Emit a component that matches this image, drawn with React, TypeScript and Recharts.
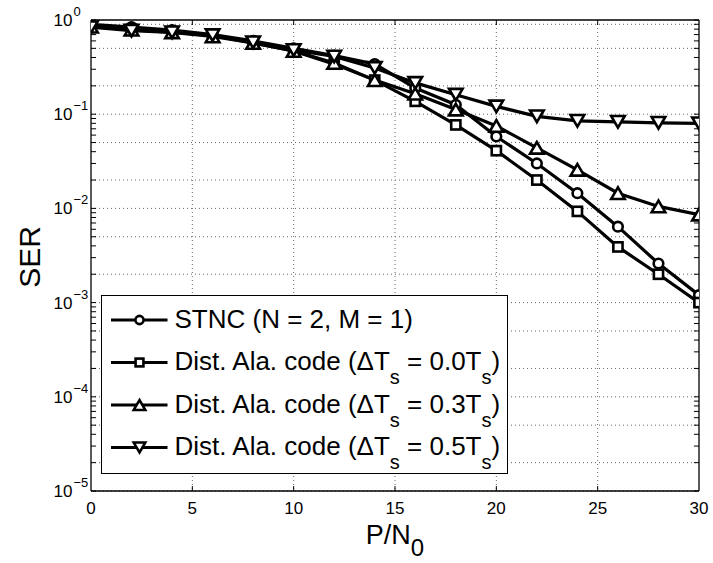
import React from 'react';
import { LineChart, Line, XAxis, YAxis, CartesianGrid, ReferenceLine, Legend } from 'recharts';

// ---- data ----
const snr = [0, 2, 4, 6, 8, 10, 12, 14, 16, 18, 20, 22, 24, 26, 28, 30];
const serStnc = [0.9, 0.84, 0.78, 0.7, 0.6, 0.5, 0.42, 0.34, 0.19, 0.126, 0.058, 0.03, 0.0145, 0.0064, 0.0026, 0.0012];
const serDist00 = [0.86, 0.8, 0.75, 0.68, 0.57, 0.47, 0.34, 0.23, 0.137, 0.077, 0.041, 0.02, 0.0093, 0.0039, 0.002, 0.001];
const serDist03 = [0.85, 0.79, 0.74, 0.67, 0.57, 0.47, 0.35, 0.23, 0.165, 0.112, 0.075, 0.044, 0.0257, 0.0145, 0.0105, 0.0086];
const serDist05 = [0.84, 0.77, 0.74, 0.69, 0.58, 0.48, 0.41, 0.31, 0.215, 0.161, 0.121, 0.095, 0.085, 0.083, 0.081, 0.08];
const seriesNames = [
  'STNC (N = 2, M = 1)',
  'Dist. Ala. code (ΔT_s = 0.0T_s)',
  'Dist. Ala. code (ΔT_s = 0.3T_s)',
  'Dist. Ala. code (ΔT_s = 0.5T_s)',
];
const seriesKeys = ['stnc', 'd00', 'd03', 'd05'];
const seriesMarkers = ['circle', 'square', 'up', 'down'];
const xTicks = [0, 5, 10, 15, 20, 25, 30];
const xGrid = [5, 10, 15, 20, 25];
const yTicks = [1e-5, 1e-4, 1e-3, 1e-2, 1e-1, 1];
const yTickExponents = ['−5', '−4', '−3', '−2', '−1', '0'];
const yDecades = [-5, -4, -3, -2, -1];
const yMantissas = [1, 2, 3, 4, 5, 6, 7, 8, 9];

const data = snr.map((x, i) => ({ x, stnc: serStnc[i], d00: serDist00[i], d03: serDist03[i], d05: serDist05[i] }));
const yGridValues: number[] = [];
yDecades.forEach((e) => yMantissas.forEach((m) => yGridValues.push(m * Math.pow(10, e))));

const FONT = '"Liberation Sans", Arial, Helvetica, sans-serif';
const W = 713;
const H = 563;
const TICK_X = 0.25; // inward tick length in x units
const TICK_YF = Math.pow(10, 5 / 94); // inward tick length as log factor

function Marker({ type, cx, cy, s = 1 }: { type: string; cx: number; cy: number; s?: number }) {
  const sw = 2.6;
  if (type === 'circle') return <circle cx={cx} cy={cy} r={4.8 * s} fill="#fff" stroke="#000" strokeWidth={sw} />;
  if (type === 'square') {
    const h = 4.6 * s;
    return <rect x={cx - h} y={cy - h} width={2 * h} height={2 * h} fill="#fff" stroke="#000" strokeWidth={sw} />;
  }
  const hw = 6.8 * s;
  const hh = 5.8 * s;
  if (type === 'up')
    return <polygon points={`${cx},${cy - hh} ${cx - hw},${cy + hh} ${cx + hw},${cy + hh}`} fill="#fff" stroke="#000" strokeWidth={sw} strokeLinejoin="miter" />;
  return <polygon points={`${cx},${cy + hh} ${cx - hw},${cy - hh} ${cx + hw},${cy - hh}`} fill="#fff" stroke="#000" strokeWidth={sw} strokeLinejoin="miter" />;
}

const makeDot = (type: string) => (props: any) => {
  const { cx, cy, index } = props;
  if (cx == null || cy == null) return <g key={`${type}-${index}`} />;
  return (
    <g key={`${type}-${index}`}>
      <Marker type={type} cx={cx} cy={cy} />
    </g>
  );
};

const XTick = (props: any) => {
  const { x, y, payload } = props;
  return (
    <text x={x} y={y + 23} textAnchor="middle" fontSize={17} fontFamily={FONT} fill="#000">
      {payload.value}
    </text>
  );
};

const YTick = (props: any) => {
  const { x, y, payload } = props;
  const i = yTicks.findIndex((t) => Math.abs(Math.log10(t) - Math.log10(payload.value)) < 1e-6);
  return (
    <g>
      <text x={x - 18.5} y={y + 6} textAnchor="end" fontSize={17} fontFamily={FONT} fill="#000">
        10
      </text>
      <text x={x - 17.5} y={y - 4} textAnchor="start" fontSize={13} fontFamily={FONT} fill="#000">
        {yTickExponents[i]}
      </text>
    </g>
  );
};

function renderTeX(label: string, subDy: number, subSize: number) {
  const parts = label.split(/_(.)/);
  const out: any[] = [];
  parts.forEach((p, i) => {
    if (p === '') return;
    const isSub = i % 2 === 1;
    const prevSub = i > 0 && (i - 1) % 2 === 1;
    let dy = 0;
    if (isSub) dy = subDy;
    else if (prevSub) dy = -subDy;
    out.push(
      <tspan key={i} dy={dy} fontSize={isSub ? subSize : undefined} style={{ whiteSpace: 'pre' }}>
        {p}
      </tspan>
    );
  });
  return out;
}

const rowCenters = [25, 67.5, 110, 152.5];

const LegendBox = () => (
  <div
    style={{
      width: 407,
      height: 179,
      boxSizing: 'border-box',
      border: '1px solid #000',
      background: '#fff',
    }}
  >
    <svg width={405} height={177} style={{ display: 'block' }}>
      {seriesNames.map((name, i) => {
        const c = rowCenters[i] - 1;
        return (
          <g key={name}>
            <line x1={9} x2={65.5} y1={c} y2={c} stroke="#000" strokeWidth={3.2} />
            <Marker type={seriesMarkers[i]} cx={37.5} cy={c} s={0.85} />
            <text x={72.5} y={c + 7.5} fontSize={26} fontFamily={FONT} fill="#000" style={{ whiteSpace: 'pre' }}>
              {renderTeX(name, 14, 20)}
            </text>
          </g>
        );
      })}
    </svg>
  </div>
);

export default function App() {
  return (
    <div style={{ position: 'absolute', left: 0, top: 0, width: W, height: H, background: '#fff' }}>
      <LineChart width={W} height={H} data={data} margin={{ top: 20, right: 14, bottom: 0, left: 0 }}>
        <CartesianGrid horizontal={false} verticalValues={xGrid} stroke="#666" strokeDasharray="1 3" />
        <CartesianGrid vertical={false} horizontalValues={yGridValues} stroke="#666" strokeDasharray="1 3" />
        <XAxis
          type="number"
          dataKey="x"
          domain={[0, 30]}
          ticks={xTicks}
          tick={<XTick />}
          tickLine={false}
          tickSize={0}
          tickMargin={0}
          height={72}
          axisLine={{ stroke: '#000', strokeWidth: 1.3 }}
          allowDataOverflow
          label={{
            content: () => (
              <text x={395} y={544} textAnchor="middle" fontSize={27} fontFamily={FONT} fill="#000">
                P/N<tspan dy={12} fontSize={24}>0</tspan>
              </text>
            ),
          }}
        />
        <YAxis
          type="number"
          scale="log"
          domain={[1e-5, 1]}
          ticks={yTicks}
          tick={<YTick />}
          tickLine={false}
          tickSize={0}
          tickMargin={0}
          width={91}
          axisLine={{ stroke: '#000', strokeWidth: 1.3 }}
          allowDataOverflow
          label={{
            content: () => (
              <text transform="translate(40,257) rotate(-90)" textAnchor="middle" fontSize={30} fontFamily={FONT} fill="#000">
                SER
              </text>
            ),
          }}
        />
        <ReferenceLine y={1} stroke="#000" strokeWidth={1.3} ifOverflow="visible" />
        <ReferenceLine x={30} stroke="#000" strokeWidth={1.3} ifOverflow="visible" />
        {yGridValues.concat([1]).map((v) => (
          <ReferenceLine key={'tl' + v} segment={[{ x: 0, y: v }, { x: TICK_X, y: v }]} stroke="#000" strokeWidth={1} ifOverflow="visible" />
        ))}
        {yGridValues.concat([1]).map((v) => (
          <ReferenceLine key={'tr' + v} segment={[{ x: 30 - TICK_X, y: v }, { x: 30, y: v }]} stroke="#000" strokeWidth={1} ifOverflow="visible" />
        ))}
        {xGrid.map((v) => (
          <ReferenceLine key={'tb' + v} segment={[{ x: v, y: 1e-5 }, { x: v, y: 1e-5 * TICK_YF }]} stroke="#000" strokeWidth={1} ifOverflow="visible" />
        ))}
        {xGrid.map((v) => (
          <ReferenceLine key={'tt' + v} segment={[{ x: v, y: 1 }, { x: v, y: 1 / TICK_YF }]} stroke="#000" strokeWidth={1} ifOverflow="visible" />
        ))}
        {seriesKeys.map((k, i) => (
          <Line
            key={k}
            type="linear"
            dataKey={k}
            name={seriesNames[i]}
            stroke="#000"
            strokeWidth={3.2}
            dot={makeDot(seriesMarkers[i])}
            activeDot={false}
            isAnimationActive={false}
          />
        ))}
        <Legend
          layout="horizontal"
          verticalAlign="middle"
          align="center"
          wrapperStyle={{ left: 101, top: 295, width: 407, height: 179 }}
          content={() => <LegendBox />}
        />
      </LineChart>
    </div>
  );
}
